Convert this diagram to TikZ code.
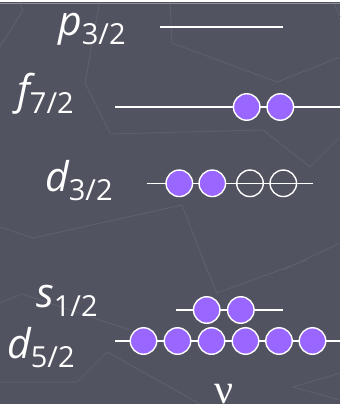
\documentclass[tikz,border=0pt]{standalone}
\usepackage{fontspec}
\setmainfont{Open Sans}
\newfontfamily\nufont{Liberation Serif}
\definecolor{slate}{RGB}{82,83,96}
\definecolor{slateline}{RGB}{94,95,108}
\definecolor{orbit}{RGB}{153,102,255}
\newcommand{\levsub}[1]{\raisebox{-9pt}{\fontsize{29}{29}\selectfont\upshape #1}}
\tikzset{
  lbl/.style={anchor=base west, inner sep=0pt, text=white,
    font=\fontsize{41}{41}\selectfont\itshape},
  level/.style={draw=white, line width=1.5pt},
  full/.style={circle, draw=white, line width=1.4pt, fill=orbit,
    minimum size=26.5pt, inner sep=0pt},
  hole/.style={circle, draw=white, line width=1.4pt,
    minimum size=26.5pt, inner sep=0pt},
  bgline/.style={draw=slateline, line width=1pt},
}
\begin{document}
\begin{tikzpicture}[x=1pt,y=-1pt]
  % backdrop
  \fill[slate] (0,0) rectangle (340,404);
  \useasboundingbox (0,0) rectangle (340,404);
  \draw[bgline] (0,47) -- (23,10) -- (18,0);
  \draw[bgline] (100,0) -- (85,83) -- (110,133);
  \draw[bgline] (170,0) -- (172,43) -- (277,82) -- (340,57);
  \draw[bgline] (333,0) -- (340,17);
  \draw[bgline] (110,134) -- (263,130) -- (310,167) -- (340,137);
  \draw[bgline] (0,227) -- (33,238) -- (182,205) -- (207,270);
  \draw[bgline] (340,243) -- (283,270);
  \draw[bgline] (203,260) -- (217,293) -- (307,260);
  \draw[bgline] (0,303) -- (22,294) -- (130,330);
  \draw[bgline] (0,382) -- (77,382) -- (107,352) -- (200,404);
  \draw[bgline] (340,373) -- (293,387) -- (340,400);
  % top rule
  \draw[white, line width=1.2pt] (0,1) -- (340,1);
  \draw[slateline!70!white, line width=0.8pt] (0,3.2) -- (340,3.2);

  % p 3/2
  \node[lbl] (lp) at (58,36) {p\levsub{3/2}};
  \coordinate (pa) at (160,27); \coordinate (pb) at (283,27);
  \draw[level] (pa) -- (pb);

  % f 7/2
  \node[lbl] (lf) at (17,104) {f\levsub{7/2}};
  \coordinate (fa) at (115,107); \coordinate (fb) at (340,107);
  \draw[level] (fa) -- (fb);
  \node[full] (f1) at (246.7,107) {};
  \node[full] (f2) at (280.3,107) {};

  % d 3/2
  \node[lbl] (ld) at (45,191) {d\levsub{3/2}};
  \coordinate (da) at (146.7,183.3); \coordinate (db) at (312.7,183.3);
  \draw[level] (da) -- (db);
  \node[full] (d1) at (179.3,183.3) {};
  \node[full] (d2) at (212.3,183.3) {};
  \node[hole] (d3) at (250,183.3) {};
  \node[hole] (d4) at (283.3,183.3) {};

  % s 1/2
  \node[lbl] (ls) at (36,307) {s\levsub{1/2}};
  \coordinate (sa) at (176,310); \coordinate (sb) at (283,310);
  \draw[level] (sa) -- (sb);
  \node[full] (s1) at (206.7,310) {};
  \node[full] (s2) at (240.8,310) {};

  % d 5/2
  \node[lbl] (le) at (7,358) {d\levsub{5/2}};
  \coordinate (ea) at (115,341); \coordinate (eb) at (340,341);
  \draw[level] (ea) -- (eb);
  \foreach \i/\x in {1/143.5,2/177.5,3/211.5,4/245.5,5/279,6/312.5}
    \node[full] (e\i) at (\x,341) {};

  % nu
  \node[anchor=base, inner sep=0pt, text=white,
    font=\nufont\fontsize{42}{42}\selectfont] (nu) at (224,403) {ν};
\end{tikzpicture}
\end{document}
